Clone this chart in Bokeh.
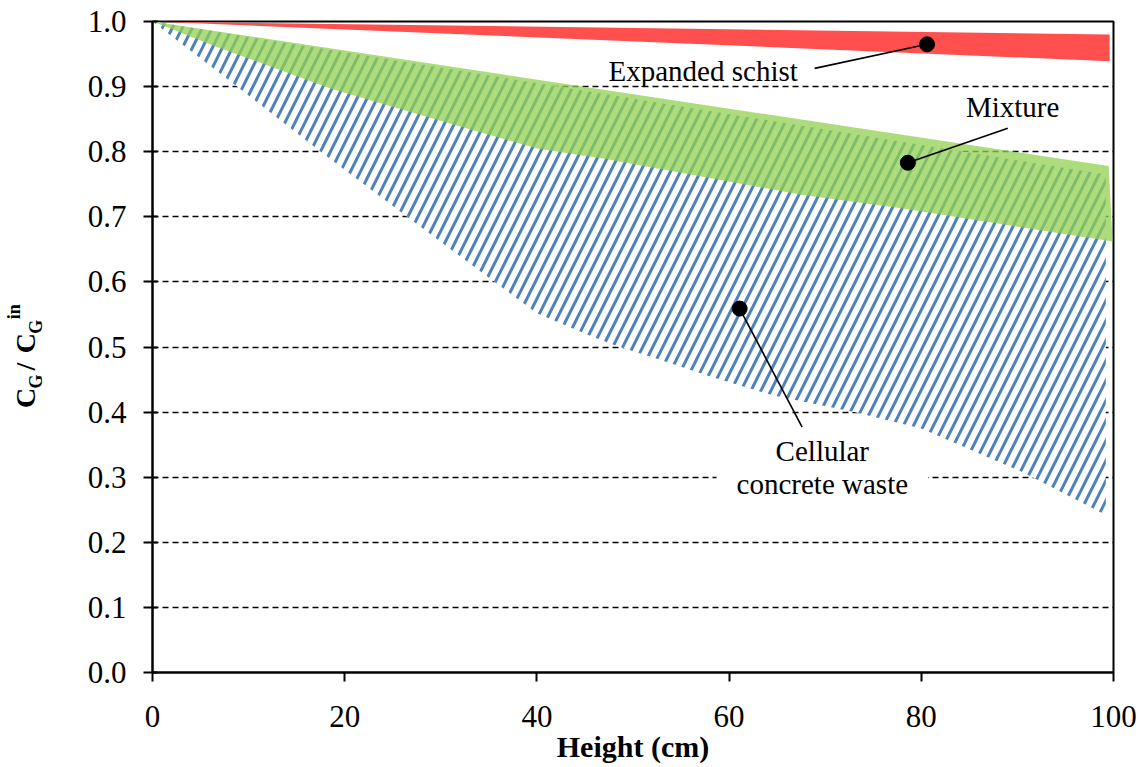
import math
from bokeh.plotting import figure
from bokeh.layouts import row
from bokeh.models import FixedTicker, PrintfTickFormatter, Range1d, Label
from bokeh.core.properties import value
from bokeh.embed import file_html
from bokeh.resources import INLINE

# ---------------- data ----------------
# Expanded schist band
schist_x = [0, 99.6]
schist_upper = [1.0, 0.980]
schist_lower = [1.0, 0.939]

# Mixture band
mix_top_x = [0, 99.5]
mix_top = [1.0, 0.778]
mix_bot_x = [0, 6.7, 18.5, 31.0, 40.0, 47.0, 57.1, 67.5, 77.9, 99.9]
mix_bot = [1.0, 0.961, 0.897, 0.843, 0.805, 0.789, 0.762, 0.734, 0.713, 0.662]

# Cellular concrete waste band
ccw_top_x = [0, 99.2]
ccw_top = [1.0, 0.765]
ccw_bot_x = [0, 8.8, 17.5, 26.5, 35.5, 40.0, 45.6, 48.4, 52.5, 57.8, 64.5, 73.0, 80.0, 90.5, 99.2]
ccw_bot = [1.0, 0.90, 0.80, 0.70, 0.601, 0.552, 0.517, 0.501, 0.482, 0.456, 0.426, 0.40, 0.375, 0.308, 0.242]

# annotation callouts: dot position and line end near the text
callout_names = ["Expanded schist", "Mixture", "Cellular concrete waste"]
dot_x = [80.6, 78.6, 61.1]
dot_y = [0.965, 0.783, 0.559]
lead_x = [68.9, 89.0, 67.6]
lead_y = [0.928, 0.836, 0.377]

x_ticks = [0, 20, 40, 60, 80, 100]
y_ticks = [0.0, 0.1, 0.2, 0.3, 0.4, 0.5, 0.6, 0.7, 0.8, 0.9, 1.0]

# y-axis title pieces: C_G / C_G^in  (text, y position, baseline column, size)
ylab_text = ["C", "G", "/", "C", "G", "in"]
ylab_y = [0.422, 0.447, 0.470, 0.506, 0.531, 0.554]
ylab_x = [25, 35, 25, 25, 35, 13]
ylab_big = [True, False, True, True, False, False]

SERIF = "Liberation Serif"
TOP, BOTTOM = 21, 90
H = 765

# ---------------- left strip holding the y-axis title ----------------
pl = figure(width=60, height=H, x_range=Range1d(0, 60), y_range=Range1d(0, 1),
            x_axis_location=None, y_axis_location=None,
            output_backend="svg", toolbar_location=None,
            min_border_left=0, min_border_right=0, min_border_top=TOP, min_border_bottom=BOTTOM)
pl.outline_line_color = None
pl.grid.visible = False
pl.background_fill_color = "white"
pl.border_fill_color = "white"
for big in (True, False):
    xs = [x for x, b in zip(ylab_x, ylab_big) if b == big]
    ys = [y for y, b in zip(ylab_y, ylab_big) if b == big]
    ts = [t for t, b in zip(ylab_text, ylab_big) if b == big]
    pl.text(x=xs, y=ys, text=ts, angle=math.pi / 2, text_font=value(SERIF),
            text_font_style="bold", text_font_size="28px" if big else "18px",
            text_align="center", text_baseline="alphabetic", text_color="black")

# ---------------- main plot ----------------
p = figure(width=1080, height=H, x_range=Range1d(0, 100), y_range=Range1d(0, 1),
           output_backend="svg", toolbar_location=None,
           min_border_left=92, min_border_right=27, min_border_top=TOP, min_border_bottom=BOTTOM)
p.background_fill_color = "white"
p.border_fill_color = "white"
p.outline_line_color = "black"
p.outline_line_width = 2

p.xgrid.visible = False
p.ygrid.grid_line_color = "black"
p.ygrid.grid_line_dash = "6 4"
p.ygrid.grid_line_width = 1.3

p.xaxis.ticker = FixedTicker(ticks=x_ticks)
p.yaxis.ticker = FixedTicker(ticks=y_ticks)
p.yaxis.formatter = PrintfTickFormatter(format="%.1f")
for ax in (p.xaxis, p.yaxis):
    ax.axis_line_color = "black"
    ax.axis_line_width = 2
    ax.major_tick_line_color = "black"
    ax.major_tick_line_width = 2
    ax.minor_tick_line_color = None
    ax.major_label_text_font = SERIF
    ax.major_label_text_font_size = "31px"
    ax.major_label_text_color = "black"
p.xaxis.major_tick_in = 0
p.xaxis.major_tick_out = 9
p.xaxis.major_label_standoff = 24
p.yaxis.major_tick_in = 5
p.yaxis.major_tick_out = 9
p.yaxis.major_label_standoff = 17

p.xaxis.axis_label = "Height (cm)"
p.xaxis.axis_label_text_font = SERIF
p.xaxis.axis_label_text_font_style = "bold"
p.xaxis.axis_label_text_font_size = "30px"
p.xaxis.axis_label_text_color = "black"
p.xaxis.axis_label_standoff = 0

# bands
ccw_px = ccw_top_x + ccw_bot_x[::-1]
ccw_py = ccw_top + ccw_bot[::-1]
p.patch(ccw_px, ccw_py, fill_color="white", line_color=None,
        hatch_pattern="/", hatch_color="#4F81BD", hatch_weight=3, hatch_scale=20)

mix_px = mix_top_x + mix_bot_x[::-1]
mix_py = mix_top + mix_bot[::-1]
p.patch(mix_px, mix_py, fill_color="#92D050", fill_alpha=0.75, line_color=None)

p.varea(x=schist_x, y1=schist_lower, y2=schist_upper, fill_color="#FF4F4F")

# callouts
p.segment(x0=dot_x, y0=dot_y, x1=lead_x, y1=lead_y, line_color="black", line_width=1.6)
p.scatter(x=dot_x, y=dot_y, size=15, fill_color="black", line_color="black")

p.text(x=[57.3], y=[0.924], text=["Expanded schist"], text_font=value(SERIF),
       text_font_size="29px", text_align="center", text_baseline="alphabetic", text_color="black")
p.text(x=[89.5], y=[0.869], text=["Mixture"], text_font=value(SERIF),
       text_font_size="29px", text_align="center", text_baseline="alphabetic", text_color="black")

p.add_layout(Label(x=69.7, y=0.289, text="concrete waste", text_font=SERIF,
                   text_font_size="29px", text_align="center", text_baseline="alphabetic",
                   text_color="black", background_fill_color="white", padding=20))
p.add_layout(Label(x=69.7, y=0.340, text="Cellular", text_font=SERIF,
                   text_font_size="29px", text_align="center", text_baseline="alphabetic",
                   text_color="black"))

layout = row(pl, p)
open("out.html", "w").write(file_html(layout, INLINE))
